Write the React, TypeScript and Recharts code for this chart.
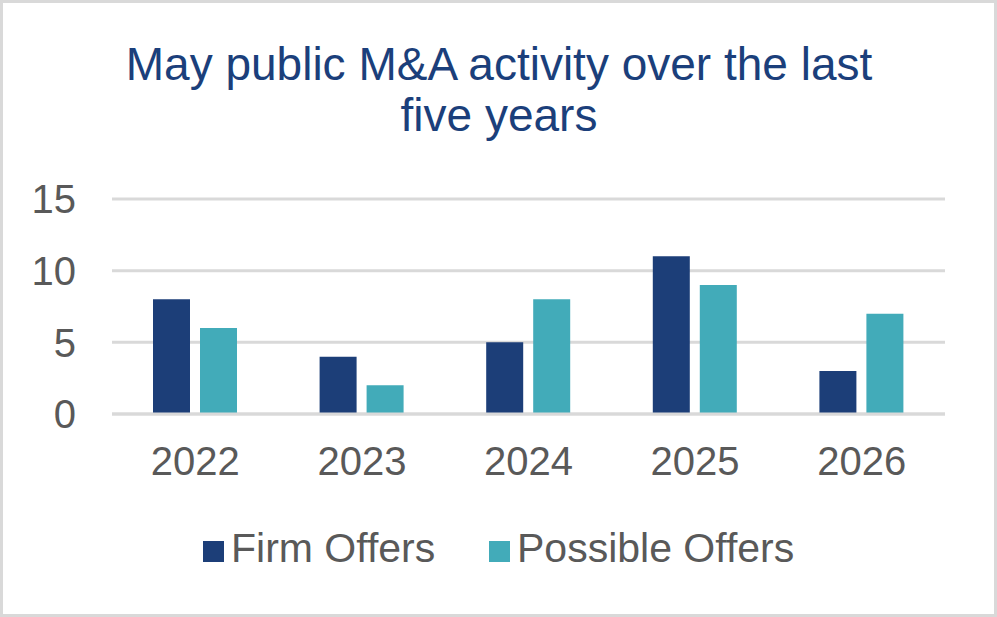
import { BarChart, Bar, XAxis, YAxis, CartesianGrid, Legend } from "recharts";

const years = ["2022", "2023", "2024", "2025", "2026"];
const firmOffers = [8, 4, 5, 11, 3];
const possibleOffers = [6, 2, 8, 9, 7];
const yTicks = [0, 5, 10, 15];

const FIRM = "#1C3E78";
const POSSIBLE = "#42ABB9";
const TEXT = "#595959";
const GRID = "#D9D9D9";
const FONT = "'Liberation Sans', Arial, sans-serif";

const data = years.map((year, i) => ({
  year,
  firm: firmOffers[i],
  possible: possibleOffers[i],
}));

// legend drawn as svg so square + label positions are exact
function ChartLegend(props: any) {
  const items = props.payload || [];
  const xs = [203, 489];
  return (
    <svg width={997} height={60}>
      {items.map((item: any, i: number) => (
        <g key={item.value}>
          <rect x={xs[i]} y={21} width={21} height={21} fill={item.color} />
          <text
            x={xs[i] + 28}
            y={42}
            fontSize={41}
            fontFamily={FONT}
            fill={TEXT}
          >
            {item.value}
          </text>
        </g>
      ))}
    </svg>
  );
}

export default function App() {
  return (
    <div
      style={{
        position: "absolute",
        left: 0,
        top: 0,
        width: 997,
        height: 617,
        background: "#fff",
      }}
    >
      <BarChart
        width={997}
        height={617}
        data={data}
        margin={{ top: 199, right: 52, left: 52, bottom: 143 }}
        barSize={37}
        barGap={10}
      >
        <CartesianGrid
          vertical={false}
          stroke={GRID}
          strokeWidth={3}
        />
        <XAxis
          dataKey="year"
          height={60}
          stroke={GRID}
          strokeWidth={3}
          tickLine={false}
          tickSize={0}
          tickMargin={33}
          tick={{ fill: TEXT, fontSize: 40, fontFamily: FONT }}
        />
        <YAxis
          width={60}
          domain={[0, 15]}
          ticks={yTicks}
          axisLine={false}
          tickLine={false}
          tickSize={0}
          tickMargin={36}
          tick={{ fill: TEXT, fontSize: 40, fontFamily: FONT }}
        />
        <Legend
          verticalAlign="middle"
          layout="horizontal"
          content={<ChartLegend />}
          wrapperStyle={{ top: 520, left: 0, width: 997, height: 60 }}
        />
        <Bar
          dataKey="firm"
          name="Firm Offers"
          fill={FIRM}
          isAnimationActive={false}
        />
        <Bar
          dataKey="possible"
          name="Possible Offers"
          fill={POSSIBLE}
          isAnimationActive={false}
        />
      </BarChart>
      <svg
        width={997}
        height={617}
        style={{ position: "absolute", left: 0, top: 0, pointerEvents: "none" }}
      >
        <text
          x={499}
          y={80}
          textAnchor="middle"
          fontSize={46}
          fontFamily={FONT}
          fill="#1B3F7B"
        >
          May public M&amp;A activity over the last
        </text>
        <text
          x={499}
          y={131}
          textAnchor="middle"
          fontSize={46}
          fontFamily={FONT}
          fill="#1B3F7B"
        >
          five years
        </text>
        <rect
          x={1.5}
          y={1.5}
          width={994}
          height={614}
          fill="none"
          stroke={GRID}
          strokeWidth={3}
        />
      </svg>
    </div>
  );
}
